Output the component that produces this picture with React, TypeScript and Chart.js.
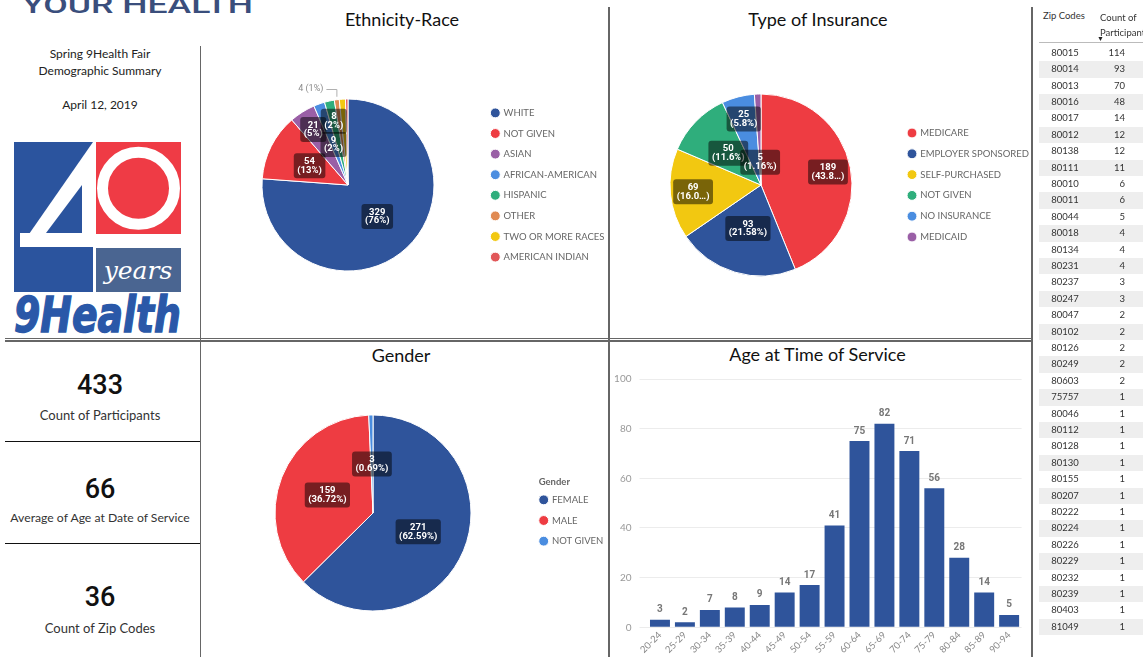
import React, { useEffect, useRef } from 'react';
import { Chart, registerables } from 'chart.js';

Chart.register(...registerables);

const FONT = 'Lato, "Segoe UI", sans-serif';
const NUMFONT = 'Roboto, sans-serif';
Chart.defaults.font.family = FONT;

const BLUE = '#2F549B';
const RED = '#EE3C42';
const PURPLE = '#9A5FA6';
const LBLUE = '#4A8DE0';
const GREEN = '#2FAE7C';
const ORANGE = '#E08A52';
const YELLOW = '#F2C811';
const AMRED = '#E15759';

// ---- data ----
const ethnicityLabels = ['WHITE', 'NOT GIVEN', 'ASIAN', 'AFRICAN-AMERICAN', 'HISPANIC', 'OTHER', 'TWO OR MORE RACES', 'AMERICAN INDIAN'];
const ethnicityValues = [329, 54, 21, 9, 8, 4, 5, 2];

const insuranceLabels = ['MEDICARE', 'EMPLOYER SPONSORED', 'SELF-PURCHASED', 'NOT GIVEN', 'NO INSURANCE', 'MEDICAID'];
const insuranceValues = [189, 93, 69, 50, 25, 5];

const genderLabels = ['FEMALE', 'MALE', 'NOT GIVEN'];
const genderValues = [271, 159, 3];

const ageGroups = ['20-24', '25-29', '30-34', '35-39', '40-44', '45-49', '50-54', '55-59', '60-64', '65-69', '70-74', '75-79', '80-84', '85-89', '90-94'];
const ageCounts = [3, 2, 7, 8, 9, 14, 17, 41, 75, 82, 71, 56, 28, 14, 5];

const zipCodes = ['80015', '80014', '80013', '80016', '80017', '80012', '80138', '80111', '80010', '80011', '80044', '80018', '80134', '80231', '80237', '80247', '80047', '80102', '80126', '80249', '80603', '75757', '80046', '80112', '80128', '80130', '80155', '80207', '80222', '80224', '80226', '80229', '80232', '80239', '80403', '81049'];
const zipCounts = [114, 93, 70, 48, 14, 12, 12, 11, 6, 6, 5, 4, 4, 4, 3, 3, 2, 2, 2, 2, 2, 1, 1, 1, 1, 1, 1, 1, 1, 1, 1, 1, 1, 1, 1, 1];

const kpiValues = ['433', '66', '36'];
const kpiLabels = ['Count of Participants', 'Average of Age at Date of Service', 'Count of Zip Codes'];

// ---- plugins ----
type PieLabelCfg = {
  radii: (number | 'out' | null)[];
  mode: 'int' | 'dec';
  truncate?: number[];
};

function makePieLabels(cfg: PieLabelCfg) {
  return {
    id: 'pieLabels',
    afterDatasetsDraw(chart: any) {
      const ctx = chart.ctx;
      const vals: number[] = chart.data.datasets[0].data;
      const total = vals.reduce((a, b) => a + b, 0);
      const meta = chart.getDatasetMeta(0);
      ctx.save();
      meta.data.forEach((arc: any, i: number) => {
        const f = cfg.radii[i];
        if (f == null) return;
        const p = arc.getProps(['x', 'y', 'startAngle', 'endAngle', 'outerRadius'], true);
        const mid = (p.startAngle + p.endAngle) / 2;
        const raw = (vals[i] / total) * 100;
        let pct = cfg.mode === 'int' ? `${Math.round(raw)}%` : `${parseFloat(raw.toFixed(2))}%`;
        if (f === 'out') {
          const ax = p.x + Math.cos(mid) * (p.outerRadius + 3);
          const ay = p.y + Math.sin(mid) * (p.outerRadius + 3);
          const ey = p.y - p.outerRadius - 10;
          const ex = ax - 10;
          ctx.strokeStyle = '#b0b0b0';
          ctx.lineWidth = 1;
          ctx.beginPath();
          ctx.moveTo(ax + 0.5, ay);
          ctx.lineTo(ax + 0.5, ey + 0.5);
          ctx.lineTo(ex, ey + 0.5);
          ctx.stroke();
          ctx.font = `9px ${NUMFONT}`;
          ctx.fillStyle = '#8a8a8a';
          ctx.textAlign = 'right';
          ctx.textBaseline = 'middle';
          ctx.fillText(`${vals[i]} (${pct})`, ex - 3, ey);
          return;
        }
        if (cfg.truncate && cfg.truncate.includes(i)) pct = pct.slice(0, 4) + '…';
        const cx = p.x + Math.cos(mid) * p.outerRadius * f;
        const cy = p.y + Math.sin(mid) * p.outerRadius * f;
        const l1 = String(vals[i]);
        const l2 = `(${pct})`;
        ctx.font = `bold 9.5px ${NUMFONT}`;
        const w = Math.max(ctx.measureText(l1).width, ctx.measureText(l2).width) + 7;
        const h = 25;
        ctx.fillStyle = 'rgba(0,0,0,0.5)';
        ctx.beginPath();
        ctx.roundRect(cx - w / 2, cy - h / 2, w, h, 3);
        ctx.fill();
        ctx.fillStyle = '#fff';
        ctx.textAlign = 'center';
        ctx.textBaseline = 'middle';
        ctx.fillText(l1, cx, cy - 4.3);
        ctx.fillText(l2, cx, cy + 4.5);
      });
      ctx.restore();
    },
  };
}

function makeLegendTitle(text: string) {
  return {
    id: 'legendTitleText',
    afterDraw(chart: any) {
      const lg = chart.legend;
      if (!lg || !lg.legendHitBoxes || !lg.legendHitBoxes.length) return;
      const hb = lg.legendHitBoxes[0];
      const ctx = chart.ctx;
      ctx.save();
      ctx.font = `bold 9.5px ${FONT}`;
      ctx.fillStyle = '#666';
      ctx.textAlign = 'left';
      ctx.textBaseline = 'middle';
      ctx.fillText(text, hb.left - 1.5, hb.top + 4.75 - 17.5);
      ctx.restore();
    },
  };
}

const barValues = {
  id: 'barValues',
  afterDatasetsDraw(chart: any) {
    const ctx = chart.ctx;
    const meta = chart.getDatasetMeta(0);
    const data = chart.data.datasets[0].data;
    ctx.save();
    ctx.font = `bold 10px ${NUMFONT}`;
    ctx.fillStyle = '#777';
    ctx.textAlign = 'center';
    ctx.textBaseline = 'bottom';
    meta.data.forEach((bar: any, i: number) => {
      ctx.fillText(String(data[i]), bar.x, bar.y - 5);
    });
    ctx.restore();
  },
};

// ---- chart configs ----
const LEG_FS = 9.5;
const LEG_BOX = 7;

function maxTextWidth(labels: string[], font: string) {
  const c = document.createElement('canvas').getContext('2d') as CanvasRenderingContext2D;
  c.font = font;
  return Math.max(...labels.map((l) => c.measureText(l).width));
}

function pieConfig(opts: {
  labels: string[];
  values: number[];
  colors: string[];
  radius: number;
  canvasWidth: number;
  centerX: number; // relative to canvas
  circleX: number; // legend circle centre, relative to canvas
  legendPadding: number;
  labelCfg: PieLabelCfg;
  title?: string;
}): any {
  const { labels, values, colors, radius, canvasWidth, centerX, circleX, legendPadding, labelCfg, title } = opts;
  const legendLeft = circleX - legendPadding - LEG_BOX / 2;
  const textW = maxTextWidth(labels, `${LEG_FS}px ${FONT}`);
  const legendW = legendPadding + LEG_BOX + LEG_FS / 2 + textW + 10 + 2;
  const padR = Math.max(0, canvasWidth - legendLeft - legendW);
  const padL = 2 * centerX - legendLeft;
  const plugins: any[] = [makePieLabels(labelCfg)];
  if (title) plugins.push(makeLegendTitle(title));
  return {
    type: 'pie',
    data: {
      labels,
      datasets: [
        {
          data: values,
          backgroundColor: colors,
          borderColor: '#ffffff',
          borderWidth: 1,
        },
      ],
    },
    options: {
      responsive: false,
      animation: false,
      radius,
      layout: { padding: { left: padL, right: padR, top: 0, bottom: 0 } },
      plugins: {
        tooltip: { enabled: false },
        legend: {
          position: 'right',
          align: 'center',
          title: title
            ? {
                display: true,
                text: title,
                color: 'rgba(0,0,0,0)',
                position: 'start',
                font: { size: 9.5, family: FONT },
                padding: { top: 3.6, bottom: 0 },
              }
            : { display: false },
          labels: {
            usePointStyle: true,
            pointStyle: 'circle',
            boxWidth: LEG_BOX,
            boxHeight: LEG_BOX,
            padding: legendPadding,
            color: '#666',
            font: { size: LEG_FS, family: FONT },
          },
        },
      },
    },
    plugins,
  };
}

const ethnicityConfig = () =>
  pieConfig({
    labels: ethnicityLabels,
    values: ethnicityValues,
    colors: [BLUE, RED, PURPLE, LBLUE, GREEN, ORANGE, YELLOW, AMRED],
    radius: 86,
    canvasWidth: 430,
    centerX: 347 - 202,
    circleX: 493.3 - 202,
    legendPadding: 11.1,
    labelCfg: { radii: [0.5, 0.5, 0.76, 0.5, 0.76, 'out', null, null], mode: 'int' },
  });

const insuranceConfig = () =>
  pieConfig({
    labels: insuranceLabels,
    values: insuranceValues,
    colors: [RED, BLUE, YELLOW, GREEN, LBLUE, PURPLE],
    radius: 91,
    canvasWidth: 440,
    centerX: 760 - 610,
    circleX: 910 - 610,
    legendPadding: 11.3,
    labelCfg: { radii: [0.75, 0.5, 0.75, 0.5, 0.75, 0.25], mode: 'dec', truncate: [0, 2] },
  });

const genderConfig = () =>
  pieConfig({
    labels: genderLabels,
    values: genderValues,
    colors: [BLUE, RED, LBLUE],
    radius: 98,
    canvasWidth: 430,
    centerX: 372 - 202,
    circleX: 541.7 - 202,
    legendPadding: 11.15,
    labelCfg: { radii: [0.5, 0.5, 0.5], mode: 'dec' },
    title: 'Gender',
  });

const ageConfig = (): any => ({
  type: 'bar',
  data: {
    labels: ageGroups,
    datasets: [
      {
        data: ageCounts,
        backgroundColor: BLUE,
        barPercentage: 0.8,
        categoryPercentage: 1.0,
      },
    ],
  },
  options: {
    responsive: false,
    animation: false,
    layout: { padding: { top: 12.3, right: 8.4, left: 0, bottom: 0 } },
    plugins: { legend: { display: false }, tooltip: { enabled: false } },
    scales: {
      x: {
        grid: { display: false, drawTicks: false },
        border: { display: false },
        ticks: {
          color: '#888',
          font: { size: 9.5, family: FONT },
          minRotation: 45,
          maxRotation: 45,
          autoSkip: false,
          padding: 2,
        },
        afterFit: (s: any) => {
          s.height = 27.7;
        },
      },
      y: {
        min: 0,
        max: 100,
        ticks: { stepSize: 20, color: '#999', font: { size: 10, family: FONT }, padding: 8 },
        grid: { color: '#ececec', drawTicks: true, tickLength: 8 },
        border: { display: false },
        afterFit: (s: any) => {
          s.width = 37.5;
        },
      },
    },
  },
  plugins: [barValues],
});

function ChartCanvas({ left, top, width, height, make }: { left: number; top: number; width: number; height: number; make: () => any }) {
  const ref = useRef<HTMLCanvasElement>(null);
  useEffect(() => {
    const c = new Chart(ref.current as HTMLCanvasElement, make());
    return () => c.destroy();
  }, []);
  return (
    <canvas
      ref={ref}
      width={width}
      height={height}
      style={{ position: 'absolute', left, top, width, height }}
    />
  );
}

function Line({ l, t, w, h, c = '#666' }: { l: number; t: number; w: number; h: number; c?: string }) {
  return <div style={{ position: 'absolute', left: l, top: t, width: w, height: h, background: c }} />;
}

function Title({ x, y, text }: { x: number; y: number; text: string }) {
  return (
    <div
      style={{
        position: 'absolute',
        left: x - 150,
        top: y - 12,
        width: 300,
        height: 24,
        lineHeight: '24px',
        textAlign: 'center',
        fontFamily: FONT,
        fontSize: 18,
        color: '#111',
        whiteSpace: 'nowrap',
      }}
    >
      {text}
    </div>
  );
}

function CenterText({ y, text, size, font = FONT, color = '#222', weight = 400 }: { y: number; text: string; size: number; font?: string; color?: string; weight?: number }) {
  const lh = Math.round(size * 1.4);
  return (
    <div
      style={{
        position: 'absolute',
        left: 0,
        top: y - lh / 2,
        width: 200,
        height: lh,
        lineHeight: `${lh}px`,
        textAlign: 'center',
        fontFamily: font,
        fontSize: size,
        fontWeight: weight,
        color,
        whiteSpace: 'nowrap',
      }}
    >
      {text}
    </div>
  );
}

function Logo() {
  return (
    <svg width={260} height={340} style={{ position: 'absolute', left: 0, top: 0 }}>
      <text x={22} y={13} textLength={231} lengthAdjust="spacingAndGlyphs" fontFamily={NUMFONT} fontWeight={500} fontSize={24} fill="#3A4E7C">
        YOUR HEALTH
      </text>
      <rect x={14} y={142} width={79} height={150} fill="#2B549E" />
      <polygon points="93,142 20,247 93,247" fill="#fff" />
      <rect x={20} y={233} width={76} height={14} fill="#fff" />
      <polygon points="82,185 82,233 46,233" fill="#2B549E" />
      <rect x={96} y={142} width={85} height={92} fill="#EF3B45" />
      <circle cx={138.5} cy={188.3} r={36} fill="none" stroke="#fff" strokeWidth={11} />
      <rect x={96} y={248} width={85} height={44} fill="#4A6591" />
      <text x={138} y={279} textAnchor="middle" fontFamily='"DejaVu Serif", serif' fontStyle="italic" fontSize={25} fill="#fff">
        years
      </text>
      <text x={14} y={332} textLength={167} lengthAdjust="spacingAndGlyphs" fontFamily='"DejaVu Sans", sans-serif' fontWeight="bold" fontStyle="italic" fontSize={50} fill="#2A58A8" stroke="#2A58A8" strokeWidth={1.5}>
        9Health
      </text>
    </svg>
  );
}

export default function App() {
  return (
    <div
      style={{
        position: 'absolute',
        left: 0,
        top: 0,
        width: 1143,
        height: 657,
        overflow: 'hidden',
        background: '#fff',
        fontFamily: FONT,
      }}
    >
      <Logo />
      <CenterText y={53} text="Spring 9Health Fair" size={12} />
      <CenterText y={70} text="Demographic Summary" size={12} />
      <CenterText y={104} text="April 12, 2019" size={12} />

      {/* KPI cards */}
      {kpiValues.map((v, i) => (
        <React.Fragment key={v}>
          <CenterText y={[385, 489, 597][i]} text={v} size={27} font={NUMFONT} color="#111" weight={500} />
          <CenterText y={[415, 517, 628][i]} text={kpiLabels[i]} size={i === 1 ? 12.2 : 13} color="#333" />
        </React.Fragment>
      ))}

      {/* borders */}
      <Line l={5} t={337.5} w={1028} h={1.5} />
      <Line l={5} t={340} w={1028} h={1.5} />
      <Line l={199.5} t={46} w={1.5} h={611} />
      <Line l={608} t={7} w={1.5} h={650} />
      <Line l={1031} t={7} w={1.5} h={650} />
      <Line l={5} t={440.5} w={195} h={1.5} c="#111" />
      <Line l={5} t={542.5} w={195} h={1.5} c="#111" />

      {/* titles */}
      <Title x={402} y={19} text="Ethnicity-Race" />
      <Title x={818} y={18.5} text="Type of Insurance" />
      <Title x={401} y={354.5} text="Gender" />
      <Title x={817.5} y={354} text="Age at Time of Service" />

      <ChartCanvas left={202} top={41} width={430} height={288} make={ethnicityConfig} />
      <ChartCanvas left={610} top={41} width={440} height={288} make={insuranceConfig} />
      <ChartCanvas left={202} top={370} width={430} height={286} make={genderConfig} />
      <ChartCanvas left={610} top={365} width={420} height={290} make={ageConfig} />

      {/* zip code table */}
      <div style={{ position: 'absolute', left: 1043, top: 10, fontSize: 9.5, color: '#333', fontFamily: FONT, whiteSpace: 'nowrap' }}>Zip Codes</div>
      <div style={{ position: 'absolute', left: 1100, top: 10, fontSize: 9.5, lineHeight: '15px', color: '#333', fontFamily: FONT, whiteSpace: 'nowrap' }}>
        Count of
        <br />
        Participants
      </div>
      <div style={{ position: 'absolute', left: 1097, top: 34, fontSize: 7, color: '#222', lineHeight: '8px' }}>▼</div>
      <Line l={1039} t={41.5} w={104} h={1} c="#bbb" />
      {zipCodes.map((z, i) => (
        <div
          key={z}
          style={{
            position: 'absolute',
            left: 1039,
            top: 44.8 + i * 16.4,
            width: 104,
            height: 16.4,
            background: i % 2 === 1 ? '#EEEEEE' : '#FFFFFF',
            fontFamily: FONT,
            fontSize: 9.5,
            color: '#333',
            lineHeight: '16.4px',
          }}
        >
          <span style={{ position: 'absolute', left: 0, width: 52, textAlign: 'center' }}>{z}</span>
          <span style={{ position: 'absolute', right: 18, textAlign: 'right' }}>{zipCounts[i]}</span>
        </div>
      ))}
    </div>
  );
}
